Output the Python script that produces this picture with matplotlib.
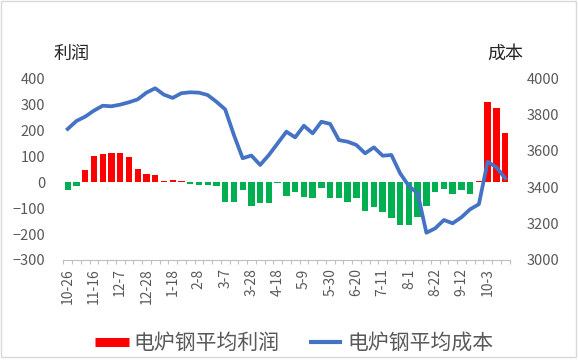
import matplotlib
matplotlib.use("Agg")
import matplotlib.pyplot as plt
from matplotlib.lines import Line2D
from matplotlib.patches import Rectangle

plt.rcParams['font.family'] = ['Noto Sans CJK SC', 'DejaVu Sans']

# weekly dates (2023-10-26 .. 2024-10-17, Spring Festival week skipped)
weeks = ['10-26', '11-2', '11-9', '11-16', '11-23', '11-30', '12-7', '12-14', '12-21',
         '12-28', '1-4', '1-11', '1-18', '1-25', '2-1', '2-8', '2-22', '2-29', '3-7',
         '3-14', '3-21', '3-28', '4-4', '4-11', '4-18', '4-25', '5-2', '5-9', '5-16',
         '5-23', '5-30', '6-6', '6-13', '6-20', '6-27', '7-4', '7-11', '7-18', '7-25',
         '8-1', '8-8', '8-15', '8-22', '8-29', '9-5', '9-12', '9-19', '9-26', '10-3',
         '10-10', '10-17']

profit = [-31, -16, 47, 102, 108, 114, 114, 96, 52, 32, 28, 3, 9, 3, -9, -13, -13,
          -15, -75, -75, -30, -92, -79, -82, -3, -52, -37, -59, -60, -24, -60, -63,
          -78, -63, -110, -95, -116, -137, -165, -165, -134, -91, -39, -25, -47, -32,
          -45, 5, 309, 284, 189]

cost = [3721, 3765, 3789, 3822, 3849, 3846, 3855, 3868, 3884, 3921, 3945, 3910, 3892,
        3918, 3923, 3921, 3908, 3871, 3829, 3688, 3560, 3575, 3523, 3578, 3642, 3706,
        3675, 3739, 3697, 3761, 3749, 3660, 3651, 3633, 3587, 3620, 3574, 3578, 3477,
        3407, 3367, 3150, 3174, 3220, 3202, 3235, 3279, 3307, 3541, 3510, 3450]

label_every = 3

red = '#FF0000'
green = '#00B050'
blue = '#4472C4'
gray = '#595959'

fig = plt.figure(figsize=(5.78, 3.61), dpi=100)
ax = fig.add_axes([0.1095, 0.2798, 0.772, 0.5033])
ax2 = ax.twinx()

x = list(range(len(weeks)))
colors = [red if v >= 0 else green for v in profit]
ax.bar(x, profit, width=0.72, color=colors, zorder=2)
ax2.plot(x, cost, color=blue, lw=2.7, solid_joinstyle='round', zorder=3)

ax.set_xlim(-0.5, len(weeks) - 0.5)
ax.set_ylim(-300, 400)
ax.set_yticks(range(-300, 401, 100))
ax2.set_ylim(3000, 4000)
ax2.set_yticks(range(3000, 4001, 200))

ax.set_xticks(x[::label_every])
ax.set_xticklabels(weeks[::label_every], rotation=90, fontsize=10, color=gray)
ax.set_xticks([i - 0.5 for i in range(len(weeks) + 1)], minor=True)
ax.tick_params(axis='x', which='major', length=0, pad=6)
ax.tick_params(axis='x', which='minor', length=3, color='#BFBFBF', width=0.8)
ax.tick_params(axis='y', length=0, pad=13, labelsize=10.5, labelcolor=gray)
ax2.tick_params(axis='y', length=0, pad=12.5, labelsize=10.5, labelcolor=gray)

for a in (ax, ax2):
    for side in ('top', 'left', 'right'):
        a.spines[side].set_visible(False)
    a.spines['bottom'].set_visible(False)
ax.spines['bottom'].set_visible(True)
ax.spines['bottom'].set_color('#BFBFBF')
ax.spines['bottom'].set_linewidth(0.8)

fig.text(0.123, 0.850, '利润', fontsize=13, ha='center', va='center', color='#262626')
fig.text(0.875, 0.850, '成本', fontsize=13, ha='center', va='center', color='#262626')

handles = [Line2D([], [], color=red, lw=6.5, solid_capstyle='butt'),
           Line2D([], [], color=blue, lw=3, solid_capstyle='butt')]
fig.legend(handles, ['电炉钢平均利润', '电炉钢平均成本'], loc='center',
           bbox_to_anchor=(0.5095, 0.05), ncol=2, frameon=False, fontsize=15,
           handlelength=1.6, handletextpad=0.25, columnspacing=1.4,
           labelcolor=gray, borderpad=0)

fig.patches.append(Rectangle((0.001, 0.012), 0.995, 0.985, transform=fig.transFigure,
                             fill=False, edgecolor='#D9D9D9', lw=1))

fig.savefig('out.png', dpi=100)
